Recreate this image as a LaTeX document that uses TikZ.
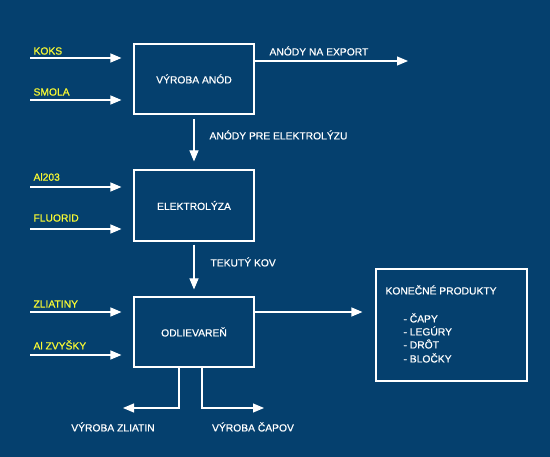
\documentclass[tikz,border=0pt]{standalone}
\usepackage{fontspec}
\setmainfont{Liberation Sans}[FakeBold=0.6]
\usetikzlibrary{arrows.meta, positioning, calc}
\definecolor{plantbg}{HTML}{05406E}
\definecolor{feedyellow}{HTML}{FAFA32}
\tikzset{
  stage/.style={draw=white, line width=1.1pt, inner sep=0pt, text=white},
  flow/.style={draw=white, line width=1.1pt, -{Triangle[length=11pt, width=9pt]}},
  feed/.style={anchor=west, text=feedyellow},
  tag/.style={anchor=west, text=white}
}

\begin{document}
\begin{tikzpicture}[x=1pt, y=-1pt, font=\fontsize{10.3}{12}\selectfont]
  \fill[plantbg] (0,0) rectangle (550,457);
  \useasboundingbox (0,0) rectangle (550,457);
  % the stages
  \node[stage, minimum width=120pt, minimum height=70pt] (anody) at (194,79) {VÝROBA ANÓD};
  \node[stage, minimum width=120pt, minimum height=71pt] (elektro) at (194,205.5) {ELEKTROLÝZA};
  \node[stage, minimum width=120pt, minimum height=70pt] (odlev) at (194,332) {ODLIEVAREŇ};
  \node[stage, minimum width=151pt, minimum height=112pt] (produkty) at (451.5,325) {};
  % raw material inputs
  \foreach \lab/\row/\laby/\stg in {KOKS/58/51/anody, SMOLA/100/92/anody,
                                   Al203/187/177/elektro, FLUORID/229/218/elektro,
                                   ZLIATINY/312/304/odlev, {Al ZVYŠKY}/355/345/odlev}{%
    \coordinate (in-\row) at (30,\row);
    \node[feed] (lab-\row) at (30,\laby) {\lab};
    \draw[flow, shorten >=12pt] (in-\row) -- (in-\row -| \stg.west);}
  % anodes
  \coordinate (export) at (408,61);
  \draw[flow] (export -| anody.east) -- (export);
  \node[tag] (export-lab) at (266,51) {ANÓDY NA EXPORT};
  \draw[flow, shorten <=4pt, shorten >=8pt] (anody) -- (elektro);
  \node[tag] (anody-lab) at (206,135) {ANÓDY PRE ELEKTROLÝZU};
  % metal
  \draw[flow, shorten <=3pt, shorten >=7pt] (elektro) -- (odlev);
  \node[tag] (kov-lab) at (207,262) {TEKUTÝ KOV};
  % outputs of the cast house
  \draw[flow, shorten >=13pt] ([yshift=20pt]odlev.east) -- ([yshift=20pt]odlev.east -| produkty.west);
  \coordinate (zliatin) at (123,408);
  \coordinate (capov) at (264,408);
  \draw[flow] ([xshift=-15pt]odlev.south) |- (zliatin);
  \draw[flow] ([xshift=8pt]odlev.south) |- (capov);
  \node[text=white] (zliatin-lab) at (113,427) {VÝROBA ZLIATIN};
  \node[text=white] (capov-lab) at (253,427) {VÝROBA ČAPOV};
  % final products
  \node[tag] (prod-title) at (382,290) {KONEČNÉ PRODUKTY};
  \foreach \item/\y in {ČAPY/318, LEGÚRY/331, DRÔT/344, BLOČKY/358}{%
    \node[tag] (prod-\y) at (400,\y) {- \item};}
\end{tikzpicture}
\end{document}
